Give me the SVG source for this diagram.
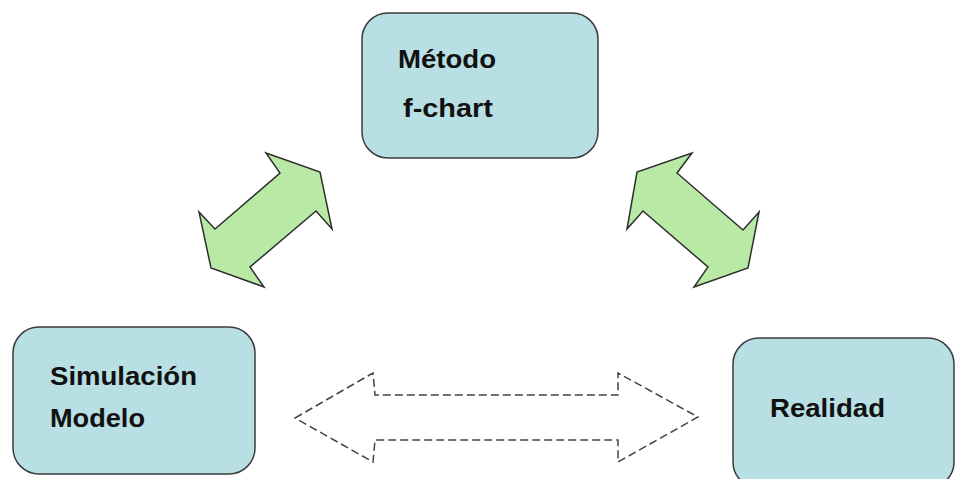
<svg xmlns="http://www.w3.org/2000/svg" width="957" height="479" viewBox="0 0 957 479">
<style>
.box{fill:#b8dfe3;stroke:#3c3c3c;stroke-width:1.5}
.lbl{font-family:"Liberation Sans",Arial,sans-serif;font-weight:bold;font-size:25px;fill:#111}
.green{fill:#b8eaa6;stroke:#2e2e2e;stroke-width:1.5;stroke-linejoin:miter}
.dash{fill:none;stroke:#444;stroke-width:1.5;stroke-dasharray:8 4}
</style>
<rect width="957" height="479" fill="#fff"/>
<g id="metodo">
<rect class="box" x="362" y="13" width="236" height="145" rx="26"/>
<text class="lbl" x="398" y="68" textLength="98" lengthAdjust="spacingAndGlyphs">Método</text>
<text class="lbl" x="403" y="117" textLength="90" lengthAdjust="spacingAndGlyphs">f-chart</text>
</g>
<g id="simulacion">
<rect class="box" x="13" y="327" width="242" height="147" rx="26"/>
<text class="lbl" x="50" y="385" textLength="147" lengthAdjust="spacingAndGlyphs">Simulación</text>
<text class="lbl" x="50" y="427" textLength="95" lengthAdjust="spacingAndGlyphs">Modelo</text>
</g>
<g id="realidad">
<rect class="box" x="733" y="338" width="221" height="150" rx="26"/>
<text class="lbl" x="770" y="417" textLength="115" lengthAdjust="spacingAndGlyphs">Realidad</text>
</g>
<g id="connectors">
<polygon class="green" points="266,153 320,172 332,229 316,211 250,267 264,287 211,268 199,212 215,229 280,173"/>
<polygon class="green" points="692,153 677,173 743,230 759,212 748,268 694,287 708,267 643,211 627,229 637,172"/>
<polygon class="dash" points="295,418 373,373 375,395 618,395 618,373 698,417 618,462 618,440 375,440 373,462"/>
</g>
</svg>
